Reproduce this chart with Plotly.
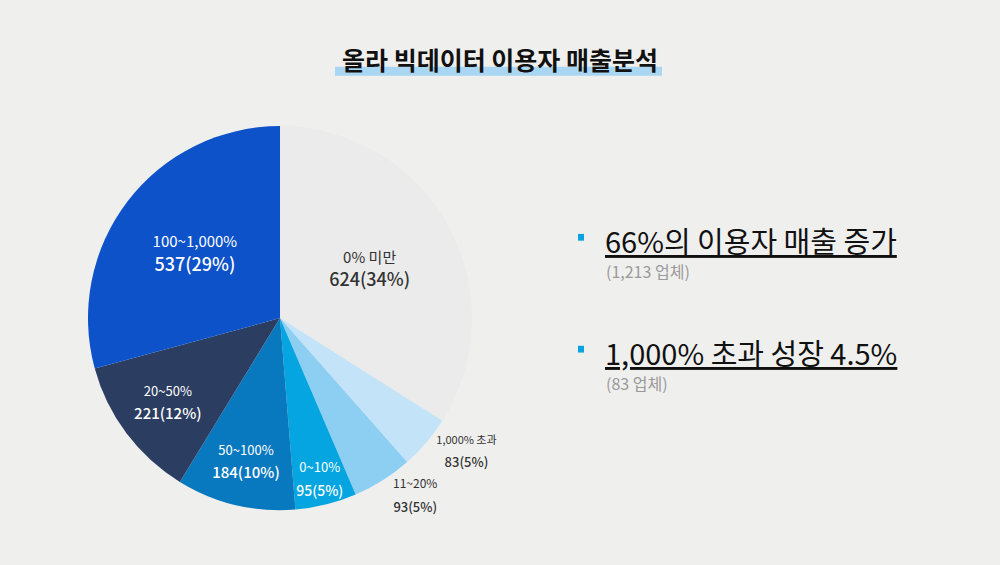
import plotly.graph_objects as go

# 매출 증가율 구간별 이용자 수
labels = ["0% 미만", "1,000% 초과", "11~20%", "0~10%", "50~100%", "20~50%", "100~1,000%"]
values = [624, 83, 93, 95, 184, 221, 537]
colors = ["#ebebeb", "#c3e3f8", "#8dcff2", "#04a5e0", "#0979bf", "#2b3e61", "#0d52c9"]
text_pos = ["inside", "outside", "outside", "inside", "inside", "inside", "inside"]
text_col = ["#333333", "#333333", "#333333", "white", "white", "white", "white"]
label_px = [15, 11, 12, 13, 13, 13, 15]
value_px = [18, 13, 13, 14, 15, 15, 18]

title_text = "올라 빅데이터 이용자 매출분석"
points = ["66%의 이용자 매출 증가", "1,000% 초과 성장 4.5%"]
subs = ["(1,213 업체)", "(83 업체)"]

FONT = "Noto Sans CJK KR"
MEDIUM = "'Noto Sans CJK KR Medium', 'Noto Sans CJK KR'"
BG = "#efefee"

# base font size sets the line gap, spans set the visible sizes
templates = [
    f"<span style='font-size:{lp}px'>%{{label}}</span><br>"
    f"<span style=\"font-size:{vp}px;font-family:{MEDIUM};font-weight:500\">"
    f"%{{value}}(%{{percent:.0%}})</span>"
    for lp, vp in zip(label_px, value_px)
]

fig = go.Figure(go.Pie(
    labels=labels,
    values=values,
    sort=False,
    direction="clockwise",
    rotation=0,
    marker=dict(colors=colors, line=dict(width=0)),
    texttemplate=templates,
    textposition=text_pos,
    insidetextorientation="horizontal",
    textfont=dict(family=FONT, size=18, color=text_col),
    outsidetextfont=dict(family=FONT, size=13, color="#333333"),
    domain=dict(x=[0.088, 0.472], y=[0.097, 0.777]),
    showlegend=False,
    hoverinfo="label+value+percent",
))

annotations = [dict(
    text=f"<b>{title_text}</b>", x=0.5, y=0.895,
    xref="paper", yref="paper", yanchor="middle", showarrow=False,
    font=dict(family=FONT, size=25, color="#111111"),
)]
shapes = [dict(
    type="rect", xref="paper", yref="paper", x0=0.335, x1=0.662, y0=0.866, y1=0.882,
    fillcolor="#a9d6f2", line=dict(width=0), layer="below",
)]

for i, (p, s) in enumerate(zip(points, subs)):
    y = 0.575 - i * 0.198
    annotations.append(dict(
        text=f"<u>{p}</u>", x=0.603, y=y, xref="paper", yref="paper",
        xanchor="left", yanchor="middle", showarrow=False,
        font=dict(family=FONT, size=29, color="#111111"),
    ))
    annotations.append(dict(
        text=s, x=0.604, y=y - 0.055, xref="paper", yref="paper",
        xanchor="left", yanchor="middle", showarrow=False,
        font=dict(family=FONT, size=16, color="#9a9a9a"),
    ))
    shapes.append(dict(
        type="rect", xref="paper", yref="paper", x0=0.578, x1=0.584,
        y0=y - 0.001, y1=y + 0.011, fillcolor="#0aa3e2", line=dict(width=0),
    ))

fig.update_layout(
    width=1000, height=565,
    margin=dict(l=0, r=0, t=0, b=0),
    paper_bgcolor=BG, plot_bgcolor=BG,
    annotations=annotations,
    shapes=shapes,
    font=dict(family=FONT),
    uniformtext=dict(minsize=18, mode="show"),
)

fig.write_html("out.html", config={"displayModeBar": False},
               post_script="document.body.style.margin='0';")
